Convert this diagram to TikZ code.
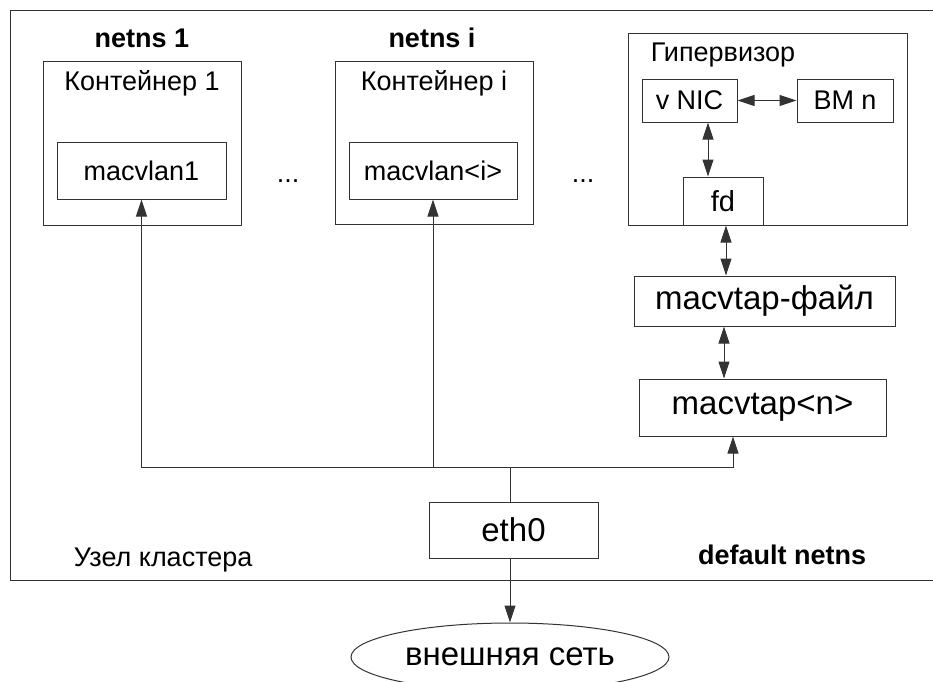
\documentclass[tikz,border=0pt]{standalone}
\usepackage{fontspec}
\setmainfont{Liberation Sans}
\usetikzlibrary{positioning, arrows.meta, shapes.geometric}
\newcommand{\txtsmall}{\fontsize{27}{31}\selectfont}
\newcommand{\txtbig}{\fontsize{33}{37}\selectfont}

\begin{document}
\begin{tikzpicture}[x=1pt,y=-1pt,>={Triangle[length=17pt,width=11pt]},line width=1pt,
    font=\txtsmall,
    frame node/.style={rectangle,draw=black!80,inner sep=0pt},
    base node/.style={frame node,font=\txtsmall},
    real node/.style={frame node,font=\txtbig},
    ns text/.style={font=\txtsmall\bfseries},
    link/.style={draw=black!80}]
\useasboundingbox (0,0) rectangle (933,681);

% cluster node
\draw[link] (10,10) rectangle (945,580);
\node[anchor=base west] (nodet) at (70,566) {Узел кластера};
\node[ns text,anchor=base east] (nsd) at (870,564) {default netns};

% containers
\node[ns text] (ns1) at (142,38) {netns 1};
\node[frame node,minimum width=198,minimum height=164] (c1) at (142,143) {};
\node (c1t) at (142,83) {Контейнер 1};
\node[base node,minimum width=169,minimum height=57] (m1) at (141.5,170.5) {macvlan1};
\node[anchor=base] (d1) at (288,182) {...};

\node[ns text] (nsi) at (432,38) {netns i};
\node[frame node,minimum width=198,minimum height=163] (ci) at (434,142.5) {};
\node (cit) at (434,83) {Контейнер i};
\node[base node,minimum width=168,minimum height=57] (mi) at (433,170.5) {macvlan<i>};
\node[anchor=base] (d2) at (583,182) {...};

% hypervisor
\node[frame node,minimum width=279,minimum height=192] (hyp) at (767.5,129) {};
\node[anchor=west] (hypt) at (647,55) {Гипервизор};
\node[base node,minimum width=95,minimum height=43] (vnic) at (689.5,100.5) {v NIC};
\node[base node,minimum width=96,minimum height=43] (vm) at (845,100.5) {ВМ n};
\node[frame node,font=\fontsize{29}{33}\selectfont,minimum width=80,minimum height=48] (fd) at (723,201) {fd};

\node[real node,minimum width=261,minimum height=50] (tapf) at (764.5,301) {macvtap-файл};
\node[real node,minimum width=247,minimum height=57] (tapn) at (762.5,407.5) {macvtap<n>};
\node[real node,minimum width=169,minimum height=56] (eth0) at (513.5,530) {eth0};
\node[ellipse,draw=black!80,font=\txtbig,minimum width=318,minimum height=68,inner sep=0pt] (net) at (510,657) {внешняя сеть};

\draw[link,<->] (vnic) -- (vm);
\draw[link,<->] (708,0 |- vnic.south) -- (708,0 |- fd.north);
\draw[link,<->] (726,0 |- fd.south) -- (726,0 |- tapf.north);
\draw[link,<->] (724,0 |- tapf.south) -- (724,0 |- tapn.north);

\coordinate (bus) at (510,467);
\draw[link] (eth0.north -| bus) -- (bus);
\draw[link,->] (bus) -| (m1);
\draw[link,->] (bus) -| (mi);
\draw[link,->] (bus) -| (733,0 |- tapn.south);
\draw[link,->] (eth0.south -| net) -- (net);
\end{tikzpicture}
\end{document}
